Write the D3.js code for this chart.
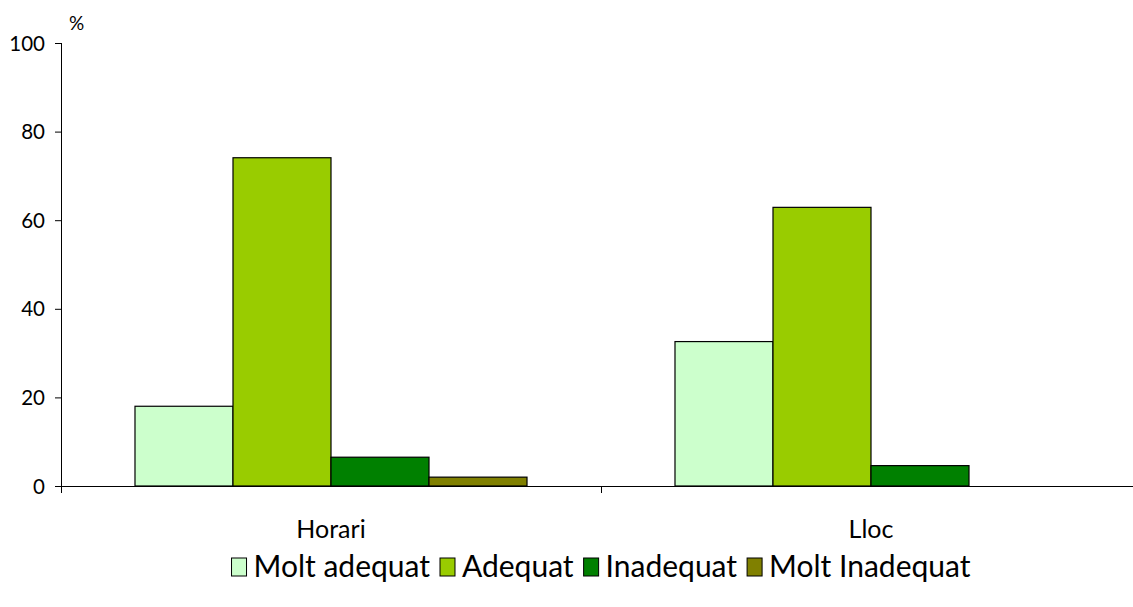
<!DOCTYPE html>
<html><head><meta charset="utf-8">
<script src="https://cdn.jsdelivr.net/npm/d3@7"></script>
<style>body{margin:0;background:#fff}svg{display:block}text{font-family:Lato,"Open Sans",sans-serif;fill:#000}</style>
</head><body>
<svg id="c" width="1133" height="607"></svg>
<script>
const categories = ["Horari", "Lloc"];
const seriesNames = ["Molt adequat", "Adequat", "Inadequat", "Molt Inadequat"];
const seriesColors = ["#CCFFCC", "#99CC00", "#008000", "#808000"];
const values = {
  "Molt adequat": [18, 32.6],
  "Adequat": [74.1, 62.9],
  "Inadequat": [6.5, 4.6],
  "Molt Inadequat": [2, 0]
};
const yTicks = [0, 20, 40, 60, 80, 100];

const svg = d3.select("#c");
const y = d3.scaleLinear().domain([0, 100]).range([486, 43]);
const x0 = d3.scaleBand().domain(categories).range([61, 1141]).paddingInner(0).paddingOuter(0);
const x1 = d3.scaleBand().domain(seriesNames).range([0, x0.bandwidth()]).paddingInner(0).paddingOuter(0.755);
const color = d3.scaleOrdinal().domain(seriesNames).range(seriesColors);

// bars
const g = svg.append("g");
categories.forEach((c, ci) => {
  seriesNames.forEach(s => {
    const v = values[s][ci];
    if (v <= 0) return;
    g.append("rect")
      .attr("x", x0(c) + x1(s))
      .attr("y", y(v))
      .attr("width", x1.bandwidth())
      .attr("height", y(0) - y(v))
      .attr("fill", color(s))
      .attr("stroke", "#000")
      .attr("stroke-width", 1.2);
  });
});

// y axis
const yAxis = svg.append("g").attr("transform", "translate(61,0)")
  .call(d3.axisLeft(y).tickValues(yTicks).tickSize(6).tickPadding(10).tickSizeOuter(0));
yAxis.select(".domain").attr("stroke", "#000").attr("d", "M0.5,43V493");
yAxis.selectAll(".tick line").attr("stroke", "#000");
yAxis.selectAll("text").style("font-size", "20.5px").attr("dy", "0.35em");

// x axis
svg.append("line").attr("x1", 55).attr("x2", 1133).attr("y1", y(0) + 0.5).attr("y2", y(0) + 0.5).attr("stroke", "#000");
const bounds = [x0.range()[0], ...categories.map(c => x0(c) + x0.bandwidth())];
bounds.forEach(b => {
  svg.append("line").attr("x1", b + 0.5).attr("x2", b + 0.5).attr("y1", y(0)).attr("y2", y(0) + 7).attr("stroke", "#000");
});
svg.selectAll(".cat").data(categories).enter().append("text")
  .attr("x", d => x0(d) + x0.bandwidth() / 2)
  .attr("y", 538)
  .attr("text-anchor", "middle")
  .style("font-size", "25px")
  .text(d => d);

svg.append("text").attr("x", 69).attr("y", 30).style("font-size", "19px").text("%");

// legend
const lg = svg.append("g");
let cx = 0;
seriesNames.forEach((s, i) => {
  const it = lg.append("g");
  it.append("rect").attr("x", cx).attr("y", -19).attr("width", 15).attr("height", 18)
    .attr("fill", color(s)).attr("stroke", "#000").attr("stroke-width", 1);
  const t = it.append("text").attr("x", cx + 22).attr("y", 0).style("font-size", "30px").text(s);
  cx += 22 + t.node().getComputedTextLength() + 10;
});
const total = cx - 10;
lg.attr("transform", `translate(${601 - total / 2},577)`);
</script>
</body></html>
